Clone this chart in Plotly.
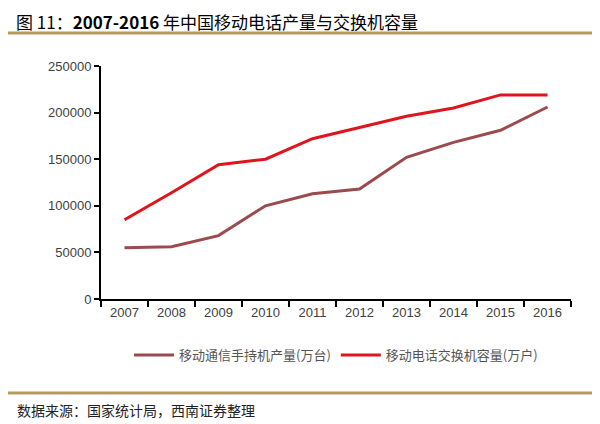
import plotly.graph_objects as go

years = [2007, 2008, 2009, 2010, 2011, 2012, 2013, 2014, 2015, 2016]
handsets = [55000, 56000, 68000, 100000, 113000, 118000, 152000, 168000, 181000, 206000]
switch_cap = [85000, 114000, 144000, 150000, 172000, 184000, 196000, 205000, 219000, 219000]
name1 = "移动通信手持机产量(万台)"
name2 = "移动电话交换机容量(万户)"

OFF = 8  # page body margin offset
L, R, T, B = 101 - OFF, 571 - OFF, 66 - OFF, 299 - OFF
W, H = R - L, B - T

fig = go.Figure()
fig.add_trace(go.Scatter(x=years, y=handsets, name=name1, mode="lines",
                         line=dict(color="#9b4a4e", width=3)))
fig.add_trace(go.Scatter(x=years, y=switch_cap, name=name2, mode="lines",
                         line=dict(color="#e0141c", width=3)))

fig.update_layout(
    width=600, height=424, paper_bgcolor="white", plot_bgcolor="white",
    margin=dict(l=L, r=600 - R, t=T, b=424 - B, autoexpand=False),
    font=dict(family="Noto Sans CJK SC", size=12, color="#404040"),
    legend=dict(orientation="h", x=0.5, xanchor="center", y=(B - (355 - OFF)) / H, yanchor="middle",
                font=dict(size=13, color="#555"), itemwidth=40, tracegroupgap=0),
    showlegend=True,
)
fig.update_xaxes(range=[2006.5, 2016.5], tickvals=years, ticks="", showgrid=False,
                 showline=True, linecolor="black", linewidth=2, automargin=False,
                 tickfont=dict(family="Liberation Sans", size=13, color="#404040"),
                 minor=dict(tick0=2006.5, dtick=1, ticks="outside", ticklen=6,
                            tickcolor="black", tickwidth=2, showgrid=False))
fig.update_yaxes(range=[0, 250000], dtick=50000, ticks="outside", ticklen=5,
                 tickcolor="black", tickwidth=2, showgrid=False, showline=True,
                 linecolor="black", linewidth=2, tickformat="d", automargin=False,
                 tickfont=dict(family="Liberation Sans", size=13, color="#404040"))

fig.add_annotation(text="图 11：<b>2007-2016</b> 年中国移动电话产量与交换机容量",
                   x=(15 - OFF - L) / W, y=B / H, xref="paper", yref="paper",
                   xanchor="left", yanchor="top", showarrow=False, borderpad=0,
                   font=dict(family="Noto Sans CJK SC", size=17, color="black"))
fig.add_annotation(text="数据来源：国家统计局，西南证券整理",
                   x=(15 - OFF - L) / W, y=(B - (410 - OFF)) / H, xref="paper", yref="paper",
                   xanchor="left", yanchor="middle", showarrow=False,
                   font=dict(family="Noto Sans CJK SC", size=14, color="#222"))
for yp in (33, 393):
    fig.add_shape(type="line", xref="paper", yref="paper",
                  x0=-L / W, x1=(600 - L) / W, y0=(B - (yp - OFF)) / H, y1=(B - (yp - OFF)) / H,
                  line=dict(color="#b89a60", width=3))

fig.write_html("out.html")
